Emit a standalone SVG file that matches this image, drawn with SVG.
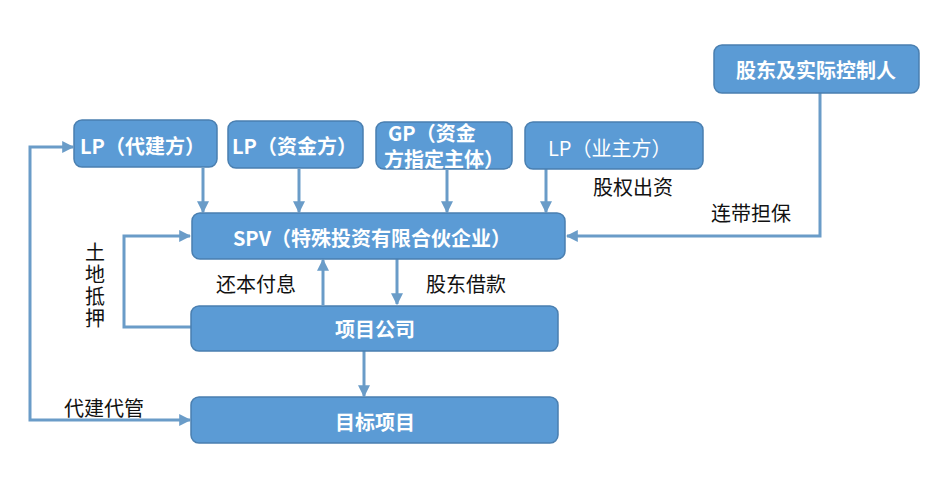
<svg xmlns="http://www.w3.org/2000/svg" width="939" height="484" viewBox="0 0 939 484">
<defs>
<style>
.box{fill:#5b9bd5;stroke:#4a7fb0;stroke-width:1.5}
.nt{fill:#ffffff;font-family:"Noto Sans CJK SC","Liberation Sans",sans-serif;font-weight:bold;font-size:20px;dominant-baseline:central}
.lb{fill:#111111;font-family:"Noto Sans CJK SC","Liberation Serif",serif;font-size:20px;dominant-baseline:central}
.ln{fill:none;stroke:#6a9cc8;stroke-width:3}
</style>
<marker id="ah" viewBox="0 0 10 10" refX="9" refY="5" markerWidth="4" markerHeight="4" orient="auto-start-reverse" markerUnits="strokeWidth">
<path d="M0,0 L10,5 L0,10 z" fill="#6a9cc8"/>
</marker>
</defs>
<rect width="939" height="484" fill="#ffffff"/>
<g id="connectors">
<path class="ln" d="M203,168 V212" marker-end="url(#ah)"/>
<path class="ln" d="M299,169 V212" marker-end="url(#ah)"/>
<path class="ln" d="M447,170 V212" marker-end="url(#ah)"/>
<path class="ln" d="M546,169 V212" marker-end="url(#ah)"/>
<path class="ln" d="M820,93 V236 H567" marker-end="url(#ah)"/>
<path class="ln" d="M191,327 H124 V236 H190" marker-end="url(#ah)"/>
<path class="ln" d="M323,305 V260" marker-end="url(#ah)"/>
<path class="ln" d="M397,259 V304" marker-end="url(#ah)"/>
<path class="ln" d="M364,351 V396" marker-end="url(#ah)"/>
<path class="ln" d="M190,420 H30 V147 H73" marker-start="url(#ah)" marker-end="url(#ah)"/>
</g>
<g id="n-lp1"><rect class="box" x="74" y="120" width="143" height="47" rx="8"/><text class="nt" x="80" y="145" font-size="19">LP（代建方）</text></g>
<g id="n-lp2"><rect class="box" x="228" y="121" width="135" height="47" rx="8"/><text class="nt" x="232" y="145" font-size="19">LP（资金方）</text></g>
<g id="n-gp"><rect class="box" x="376" y="122" width="136" height="47" rx="8"/><text class="nt" font-size="18" style="dominant-baseline:auto"><tspan x="388" y="141">GP（资金</tspan><tspan x="384" y="167">方指定主体）</tspan></text></g>
<g id="n-lp3"><rect class="box" x="525" y="122" width="178" height="47" rx="8"/><text class="nt" x="548" y="147" font-size="19" style="font-weight:normal">LP（业主方）</text></g>
<g id="n-holder"><rect class="box" x="714" y="45" width="205" height="48" rx="8"/><text class="nt" x="816" y="69" text-anchor="middle" font-size="21">股东及实际控制人</text></g>
<g id="n-spv"><rect class="box" x="192" y="213" width="373" height="46" rx="8"/><text class="nt" x="372" y="237" text-anchor="middle" font-size="21">SPV（特殊投资有限合伙企业）</text></g>
<g id="n-company"><rect class="box" x="191" y="306" width="367" height="45" rx="8"/><text class="nt" x="375" y="328" text-anchor="middle" font-size="21">项目公司</text></g>
<g id="n-target"><rect class="box" x="191" y="397" width="367" height="46" rx="8"/><text class="nt" x="375" y="421" text-anchor="middle" font-size="21">目标项目</text></g>
<g id="labels">
<text class="lb" x="633" y="186" text-anchor="middle">股权出资</text>
<text class="lb" x="751" y="212" text-anchor="middle">连带担保</text>
<text class="lb" x="256" y="283" text-anchor="middle">还本付息</text>
<text class="lb" x="466" y="283" text-anchor="middle">股东借款</text>
<text class="lb" x="104" y="407" text-anchor="middle">代建代管</text>
<text class="lb" x="95" y="242" writing-mode="vertical-rl" letter-spacing="2" style="dominant-baseline:auto">土地抵押</text>
</g>
</svg>
